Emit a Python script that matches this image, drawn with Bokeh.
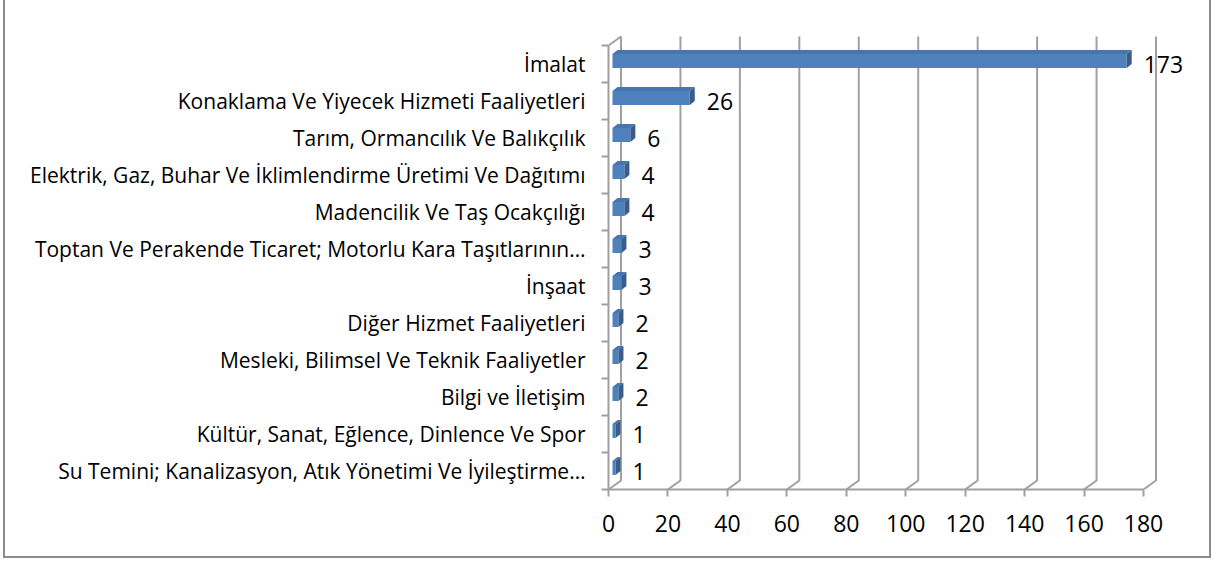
from bokeh.plotting import figure
from bokeh.models import Range1d, FixedTicker
from bokeh.embed import file_html
from bokeh.resources import INLINE
from bokeh.core.properties import value

# ---------------- data ----------------
categories = [
    "İmalat",
    "Konaklama Ve Yiyecek Hizmeti Faaliyetleri",
    "Tarım, Ormancılık Ve Balıkçılık",
    "Elektrik, Gaz, Buhar Ve İklimlendirme Üretimi Ve Dağıtımı",
    "Madencilik Ve Taş Ocakçılığı",
    "Toptan Ve Perakende Ticaret; Motorlu Kara Taşıtlarının…",
    "İnşaat",
    "Diğer Hizmet Faaliyetleri",
    "Mesleki, Bilimsel Ve Teknik Faaliyetler",
    "Bilgi ve İletişim",
    "Kültür, Sanat, Eğlence, Dinlence Ve Spor",
    "Su Temini; Kanalizasyon, Atık Yönetimi Ve İyileştirme…",
]
counts = [173, 26, 6, 4, 4, 3, 3, 2, 2, 2, 1, 1]
x_ticks = [0, 20, 40, 60, 80, 100, 120, 140, 160, 180]
x_max = 180

# ---------------- layout ----------------
W, H = 1208, 558
FL, FR, FT, FB = 603, 23, 8, 69
SX = 535 / x_max          # px per value unit
SY = 37.0                 # px per category
n = len(categories)
frame_w = W - FL - FR
frame_h = H - FT - FB
y0 = -0.5
p = figure(width=W, height=H, output_backend="svg", toolbar_location=None,
           title=None,
           x_range=Range1d(0, frame_w / SX), y_range=Range1d(y0, y0 + frame_h / SY),
           min_border_left=FL, min_border_right=FR, min_border_top=FT,
           min_border_bottom=FB)
p.styles = {"border": "2px solid #8C8C8C", "border-top": "none", "margin-left": "3px"}
p.outline_line_color = None
p.xgrid.visible = False
p.ygrid.visible = False
p.background_fill_color = "white"
p.border_fill_color = "white"

GRID = "#A0A0A0"
ypos = [n - 1 - k for k in range(n)]

# 3D wall / floor
DX = 12.5 / SX
DY = 9 / SY
top = n - 0.5
xs, ys = [], []
for g in x_ticks:
    xs.append([g, g + DX, g + DX])
    ys.append([y0, y0 + DY, top + DY])
xs.append([0, DX])
ys.append([top, top + DY])
p.multi_line(xs, ys, line_color=GRID, line_width=2)

# bars (front, top, side faces)
BX = 4 / SX
FT_PX, FB_PX = 10, 4
DDX, DDY = 5 / SX, 4 / SY
ftop = [y + FT_PX / SY for y in ypos]
fbot = [y - FB_PX / SY for y in ypos]
p.hbar(y=[(a + b) / 2 for a, b in zip(ftop, fbot)], height=(FT_PX + FB_PX) / SY,
       left=BX, right=[BX + v for v in counts], fill_color="#4F81BD", line_color=None)
top_xs, top_ys, side_xs, side_ys = [], [], [], []
for v, t, b in zip(counts, ftop, fbot):
    r = BX + v
    top_xs.append([BX, r, r + DDX, BX + DDX])
    top_ys.append([t, t, t + DDY, t + DDY])
    side_xs.append([r, r + DDX, r + DDX, r])
    side_ys.append([b, b + DDY, t + DDY, t])
p.patches(top_xs, top_ys, fill_color="#4675B2", line_color=None)
p.patches(side_xs, side_ys, fill_color="#385D8A", line_color=None)

# value labels
p.text(x=counts, y=ypos, text=[str(v) for v in counts], x_offset=21,
       text_baseline="middle", text_align="left", text_color="black",
       text_font=value("Open Sans"), text_font_size="23px")

# axes
xa = p.xaxis[0]
xa.ticker = FixedTicker(ticks=x_ticks)
xa.bounds = (0, x_max)
xa.axis_line_color = GRID
xa.axis_line_width = 2
xa.major_tick_line_color = GRID
xa.major_tick_line_width = 2
xa.major_tick_out = 7
xa.major_tick_in = 0
xa.minor_tick_line_color = None
xa.major_label_text_font = "Open Sans"
xa.major_label_text_font_size = "23px"
xa.major_label_text_color = "black"
xa.major_label_standoff = 18

ya = p.yaxis[0]
ya.ticker = FixedTicker(ticks=ypos, minor_ticks=[y0 + i for i in range(n + 1)])
ya.major_label_overrides = {y: c for y, c in zip(ypos, categories)}
ya.bounds = (y0, top)
ya.axis_line_color = GRID
ya.axis_line_width = 2
ya.major_tick_line_color = None
ya.major_tick_out = 0
ya.major_tick_in = 0
ya.minor_tick_line_color = GRID
ya.minor_tick_line_width = 2
ya.minor_tick_out = 7
ya.minor_tick_in = 0
ya.major_label_text_font = "Open Sans"
ya.major_label_text_font_size = "21px"
ya.major_label_text_color = "black"
ya.major_label_standoff = 16

open("out.html", "w").write(file_html(p, INLINE))
